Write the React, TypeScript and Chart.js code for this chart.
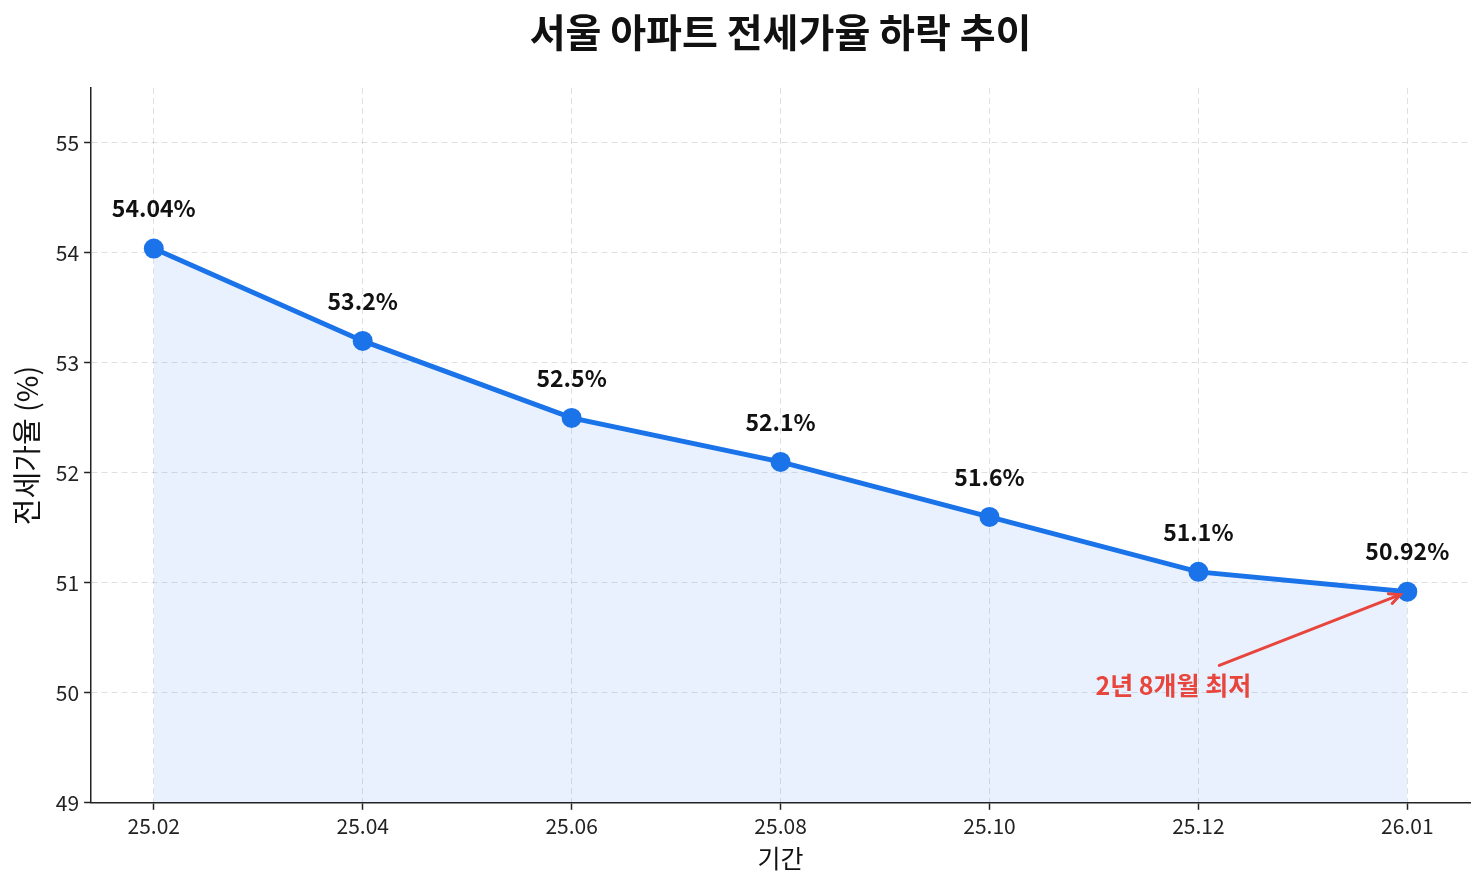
import { useEffect, useRef } from 'react';
import { Chart, registerables } from 'chart.js';

Chart.register(...registerables);

// 기간 (x축 라벨) 과 전세가율 값
const periods = ['25.02', '25.04', '25.06', '25.08', '25.10', '25.12', '26.01'];
const jeonseRatio = [54.04, 53.2, 52.5, 52.1, 51.6, 51.1, 50.92];
const pointLabels = ['54.04%', '53.2%', '52.5%', '52.1%', '51.6%', '51.1%', '50.92%'];

// 주석: 텍스트 위치 (데이터 좌표) 와 화살표가 가리키는 점
const noteText = '2년 8개월 최저';
const noteTextPos = [4.88, 50.07];
const noteArrowFrom = [5.1, 50.25];
const noteArrowTo = [6, 50.92];

const TITLE = '서울 아파트 전세가율 하락 추이';
const FONT = '"Noto Sans CJK KR", "Noto Sans", sans-serif';
const BLUE = '#1a73e8';
const RED = '#e8453c';

const labelPlugin = {
  id: 'pointLabels',
  afterDatasetsDraw(chart: Chart) {
    const ctx = chart.ctx;
    const xs = chart.scales.x;
    const ys = chart.scales.y;
    const area = chart.chartArea;
    ctx.save();
    ctx.textAlign = 'center';
    ctx.textBaseline = 'middle';

    // 제목 (플롯 영역 가운데 정렬)
    ctx.font = `bold 39px ${FONT}`;
    ctx.fillStyle = '#111';
    ctx.fillText(TITLE, (area.left + area.right) / 2, 32);

    ctx.font = `bold 23px ${FONT}`;
    jeonseRatio.forEach((v, i) => {
      ctx.fillText(pointLabels[i], xs.getPixelForValue(i), ys.getPixelForValue(v) - 40);
    });

    // 화살표
    const x1 = xs.getPixelForValue(noteArrowFrom[0]);
    const y1 = ys.getPixelForValue(noteArrowFrom[1]);
    const x2 = xs.getPixelForValue(noteArrowTo[0]) - 7;
    const y2 = ys.getPixelForValue(noteArrowTo[1]) + 3;
    ctx.strokeStyle = RED;
    ctx.lineWidth = 3;
    ctx.lineCap = 'round';
    ctx.beginPath();
    ctx.moveTo(x1, y1);
    ctx.lineTo(x2, y2);
    ctx.stroke();
    const ang = Math.atan2(y2 - y1, x2 - x1);
    const head = 12;
    ctx.beginPath();
    ctx.moveTo(x2 - head * Math.cos(ang - 0.45), y2 - head * Math.sin(ang - 0.45));
    ctx.lineTo(x2, y2);
    ctx.lineTo(x2 - head * Math.cos(ang + 0.45), y2 - head * Math.sin(ang + 0.45));
    ctx.stroke();

    ctx.font = `bold 25px ${FONT}`;
    ctx.fillStyle = RED;
    ctx.fillText(noteText, xs.getPixelForValue(noteTextPos[0]), ys.getPixelForValue(noteTextPos[1]));
    ctx.restore();
  },
};

const App = () => {
  const chartRef = useRef<HTMLCanvasElement>(null);
  const chartInstance = useRef<Chart | null>(null);

  useEffect(() => {
    document.body.style.margin = '0';
    if (!chartRef.current) return;
    if (chartInstance.current) chartInstance.current.destroy();

    const gridStyle = {
      color: 'rgba(0,0,0,0.12)',
      lineWidth: 1,
      tickColor: '#222',
      tickLength: 7,
      tickBorderDash: [],
      tickWidth: 1.5,
    };
    const borderStyle = { color: '#222', width: 1.5, dash: [6, 4] };

    chartInstance.current = new Chart(chartRef.current, {
      type: 'line',
      data: {
        datasets: [
          {
            data: jeonseRatio.map((v, i) => ({ x: i, y: v })),
            borderColor: BLUE,
            backgroundColor: 'rgba(26,115,232,0.1)',
            borderWidth: 5,
            pointRadius: 10,
            pointHoverRadius: 10,
            pointBackgroundColor: BLUE,
            pointBorderColor: BLUE,
            pointBorderWidth: 0,
            fill: 'start',
            tension: 0,
          },
        ],
      },
      options: {
        animation: false,
        responsive: true,
        maintainAspectRatio: false,
        layout: { padding: { left: 10, right: 14, bottom: 13, top: 88 } },
        plugins: {
          legend: { display: false },
          tooltip: { enabled: false },
          title: { display: false },
        },
        scales: {
          x: {
            type: 'linear',
            min: -0.3,
            max: 6.3,
            grid: gridStyle,
            border: borderStyle,
            ticks: {
              stepSize: 1,
              includeBounds: false,
              color: '#222',
              font: { family: FONT, size: 21 },
              padding: 4,
              callback: (v) => periods[Number(v)] ?? '',
            },
            title: {
              display: true,
              text: '기간',
              color: '#111',
              font: { family: FONT, size: 25 },
              padding: { top: 0, bottom: 0 },
            },
          },
          y: {
            min: 49,
            max: 55.5,
            grid: gridStyle,
            border: borderStyle,
            ticks: {
              stepSize: 1,
              includeBounds: false,
              color: '#222',
              font: { family: FONT, size: 21 },
              padding: 5,
            },
            title: {
              display: true,
              text: '전세가율 (%)',
              color: '#111',
              font: { family: FONT, size: 29 },
              padding: { top: 0, bottom: 6 },
            },
          },
        },
      },
      plugins: [labelPlugin],
    });

    return () => {
      if (chartInstance.current) {
        chartInstance.current.destroy();
        chartInstance.current = null;
      }
    };
  }, []);

  return (
    <div style={{ width: 1484, height: 886, position: 'relative', background: '#fff' }}>
      <canvas ref={chartRef} />
    </div>
  );
};

export default App;
